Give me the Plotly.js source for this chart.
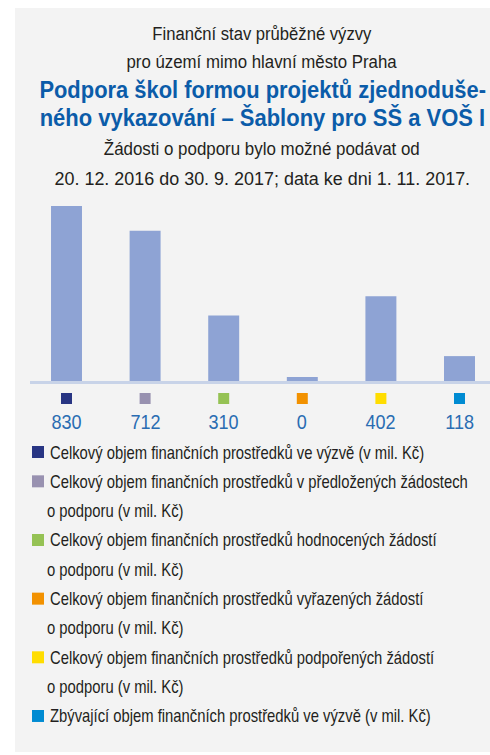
<!DOCTYPE html>
<html>
<head>
<meta charset="utf-8">
<script src="https://cdn.plot.ly/plotly-3.0.1.min.js"></script>
<style>
  html, body { margin: 0; padding: 0; background: #ffffff; }
  #chart { width: 490px; height: 755px; }
</style>
</head>
<body>
<div id="chart"></div>
<script>
// ---------- data ----------
const categories = [
  'Celkový objem finančních prostředků ve výzvě (v mil. Kč)',
  'Celkový objem finančních prostředků v předložených žádostech o podporu (v mil. Kč)',
  'Celkový objem finančních prostředků hodnocených žádostí o podporu (v mil. Kč)',
  'Celkový objem finančních prostředků vyřazených žádostí o podporu (v mil. Kč)',
  'Celkový objem finančních prostředků podpořených žádostí o podporu (v mil. Kč)',
  'Zbývající objem finančních prostředků ve výzvě (v mil. Kč)'
];
const values = [830, 712, 310, 0, 402, 118];
const valueLabels = ['830', '712', '310', '0', '402', '118'];
const legendLines = [
  ['Celkový objem finančních prostředků ve výzvě (v mil. Kč)'],
  ['Celkový objem finančních prostředků v předložených žádostech', 'o podporu (v mil. Kč)'],
  ['Celkový objem finančních prostředků hodnocených žádostí', 'o podporu (v mil. Kč)'],
  ['Celkový objem finančních prostředků vyřazených žádostí', 'o podporu (v mil. Kč)'],
  ['Celkový objem finančních prostředků podpořených žádostí', 'o podporu (v mil. Kč)'],
  ['Zbývající objem finančních prostředků ve výzvě (v mil. Kč)']
];
const categoryColors = ['#283583', '#9891b0', '#95c254', '#f29100', '#ffdd00', '#008bd2'];
const titleLines = [
  'Finanční stav průběžné výzvy',
  'pro území mimo hlavní město Praha',
  'Podpora škol formou projektů zjednoduše-',
  'ného vykazování – Šablony pro SŠ a VOŠ I',
  'Žádosti o podporu bylo možné podávat od',
  '20. 12. 2016 do 30. 9. 2017; data ke dni 1. 11. 2017.'
];
const titleBold = [false, false, true, true, false, false];

// ---------- layout helpers ----------
const W = 490, H = 755;
const px = x => x / W;
const py = y => 1 - y / H;
const FONT = '"Liberation Sans", Arial, Helvetica, sans-serif';
const barColor = '#8ea3d4';
const halfBar = 0.197;
const xIdx = categories.map((c, i) => i);

const shapes = [];
const annotations = [];
const squeeze = [];   // horizontal condensing factor per annotation (reference uses a condensed face)

// panel background
shapes.push({type: 'rect', xref: 'paper', yref: 'paper', x0: px(15), x1: px(500), y0: py(752), y1: py(8),
  fillcolor: '#f3f3f3', line: {width: 0}, layer: 'below'});

// minimum stub for zero-valued bars
values.forEach((v, i) => {
  if (v === 0) {
    shapes.push({type: 'rect', xref: 'x', yref: 'y', ysizemode: 'pixel', yanchor: 0, y0: 0, y1: 4,
      x0: i - halfBar, x1: i + halfBar, fillcolor: barColor, line: {width: 0}, layer: 'above'});
  }
});

// colour squares and value labels under axis
xIdx.forEach(i => {
  shapes.push({type: 'rect', xref: 'x', yref: 'paper', xsizemode: 'pixel', xanchor: i, x0: -5.5, x1: 5.5,
    y0: py(404), y1: py(393), fillcolor: categoryColors[i], line: {width: 0}});
  annotations.push({xref: 'x', yref: 'paper', x: i, y: py(421), xanchor: 'center', yanchor: 'middle',
    text: valueLabels[i], showarrow: false, font: {family: FONT, size: 21, color: '#2a6cb2'}});
  squeeze.push(0.86);
});

// title lines
const titleY = [33, 61, 90, 117, 149, 178];
const titleSqueeze = [0.90, 0.91, 0.913, 0.915, 0.915, 0.97];
titleLines.forEach((t, k) => {
  annotations.push({xref: 'paper', yref: 'paper', x: px(262), y: py(titleY[k]), xanchor: 'center', yanchor: 'middle',
    text: titleBold[k] ? '<b>' + t + '</b>' : t, showarrow: false,
    font: {family: FONT, size: titleBold[k] ? 24 : 18.5, color: titleBold[k] ? '#0b5ca9' : '#231f20'}});
  squeeze.push(titleSqueeze[k]);
});

// legend
let row = 0;
const legTop = 452, legStep = 29.33;
legendLines.forEach((lines, i) => {
  const yc = legTop + row * legStep;
  shapes.push({type: 'rect', xref: 'paper', yref: 'paper', x0: px(32), x1: px(44), y0: py(yc + 6), y1: py(yc - 6),
    fillcolor: categoryColors[i], line: {width: 0}});
  lines.forEach((ln, j) => {
    const y = legTop + row * legStep;
    annotations.push({xref: 'paper', yref: 'paper', x: px(j === 0 ? 48 : 45), y: py(y), xanchor: 'left', yanchor: 'middle',
      align: 'left', text: ln, showarrow: false, font: {family: FONT, size: 18.5, color: '#231f20'}});
    squeeze.push(0.80);
    row++;
  });
});

const trace = {
  type: 'bar',
  x: xIdx,
  y: values,
  marker: {color: barColor, line: {width: 0}},
  hoverinfo: 'skip',
  showlegend: false
};

const layout = {
  width: W, height: H,
  margin: {l: 0, r: 0, t: 0, b: 0},
  paper_bgcolor: '#ffffff',
  plot_bgcolor: 'rgba(0,0,0,0)',
  showlegend: false,
  bargap: 0.606,
  font: {family: FONT},
  xaxis: {
    domain: [px(30), 1],
    range: [-0.4644, 5.388],
    showline: true, linecolor: '#c8d3e8', linewidth: 3,
    showticklabels: false, ticks: '', showgrid: false, zeroline: false, fixedrange: true
  },
  yaxis: {
    domain: [py(381), py(196)],
    range: [0, 877],
    showline: false, showticklabels: false, ticks: '', showgrid: false, zeroline: false, fixedrange: true
  },
  shapes: shapes,
  annotations: annotations
};

Plotly.newPlot('chart', [trace], layout, {displayModeBar: false, staticPlot: true}).then(gd => {
  const texts = gd.querySelectorAll('.annotation-text');
  texts.forEach((t, k) => {
    const f = squeeze[k];
    if (!f || f === 1) return;
    const w = t.getComputedTextLength();
    const anchor = t.getAttribute('text-anchor') || 'start';
    const tx = parseFloat(t.getAttribute('x')) || 0;
    // horizontal condensing around the text anchor point
    t.setAttribute('transform', 'translate(' + tx + ',0) scale(' + f + ',1) translate(' + (-tx) + ',0)');
    const d = w * (1 - f);
    const rect = t.parentNode.querySelector('rect.bg');
    if (rect) {
      const rw = parseFloat(rect.getAttribute('width')) || 0;
      let rx = parseFloat(rect.getAttribute('x')) || 0;
      if (anchor === 'middle') rx += d / 2;
      else if (anchor === 'end') rx += d;
      rect.setAttribute('x', rx.toFixed(1));
      rect.setAttribute('width', Math.max(0, rw - d).toFixed(1));
    }
  });
});
</script>
</body>
</html>
